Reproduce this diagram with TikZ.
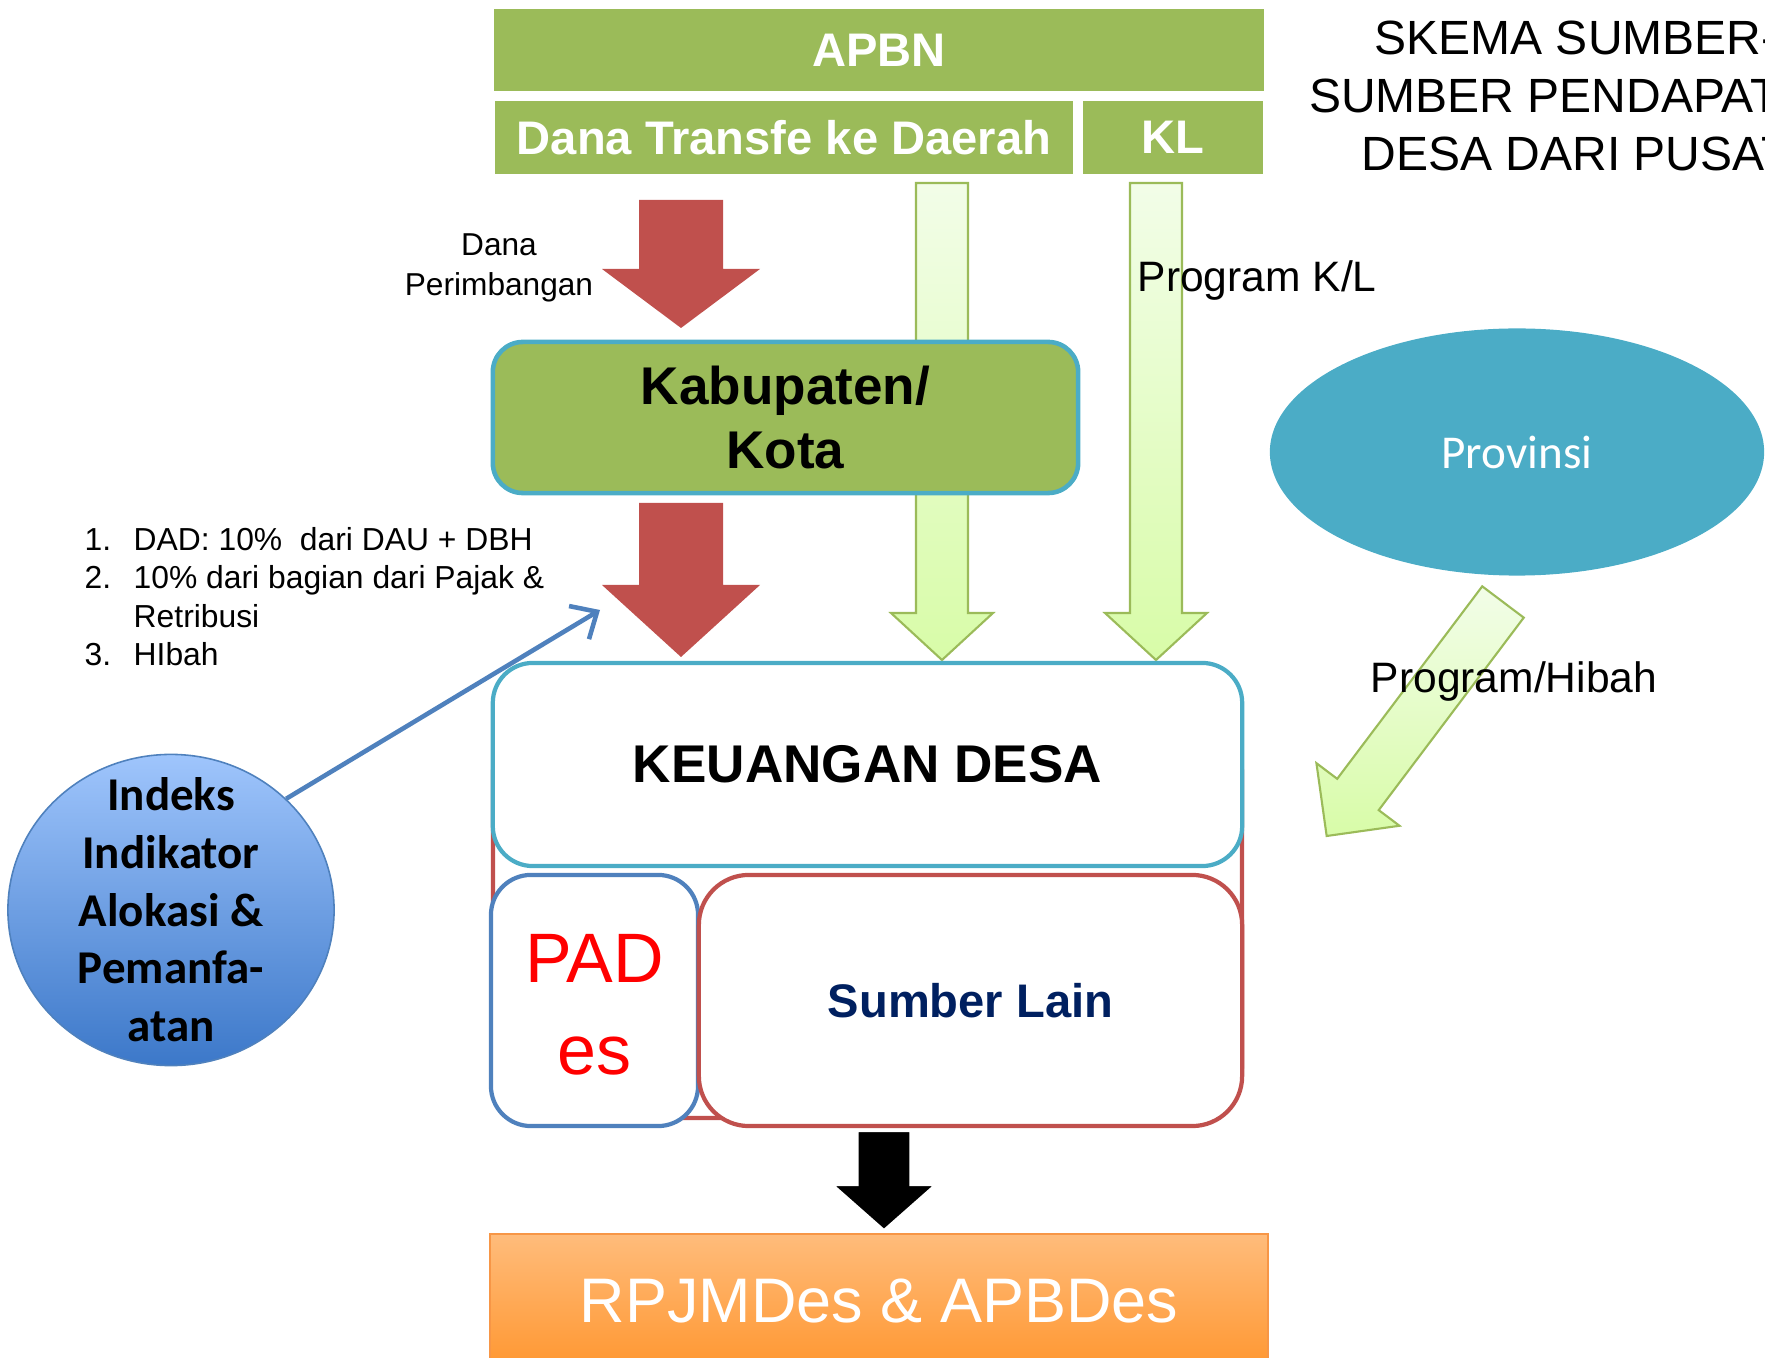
\documentclass[tikz,border=0pt]{standalone}
\usepackage{fontspec}
\setmainfont{Liberation Sans}
\newfontfamily\calibri{Carlito}
\usetikzlibrary{shapes.geometric,arrows.meta}
\definecolor{OliveGreen}{HTML}{9BBB59}
\definecolor{SkyTeal}{HTML}{4BACC6}
\definecolor{BrickRed}{HTML}{C0504D}
\definecolor{SteelBlue}{HTML}{4F81BD}
\definecolor{DeepNavy}{HTML}{002060}
\definecolor{ArrowTop}{HTML}{F2FDE8}
\definecolor{ArrowBot}{HTML}{D8FCA8}
\definecolor{ArrowLine}{HTML}{9BBB59}
\definecolor{OrangeTop}{HTML}{FFBC7B}
\definecolor{OrangeBot}{HTML}{FF9731}
\definecolor{OrangeLine}{HTML}{F79646}
\definecolor{BallTop}{HTML}{9FC5FC}
\definecolor{BallBot}{HTML}{3C78C9}

% fat arrow pointing down: style, x, top, base of head, tip, half shaft, half head
\newcommand{\blockarrow}[7]{%
  \path[#1] (#2-#6,#3) -- (#2+#6,#3) -- (#2+#6,#4) -- (#2+#7,#4) -- (#2,#5)
    -- (#2-#7,#4) -- (#2-#6,#4) -- cycle;}

\begin{document}
\begin{tikzpicture}[x=0.01cm,y=-0.01cm,
  headbox/.style={fill=OliveGreen,inner sep=0,text=white,
    font=\bfseries\fontsize{13.4}{16}\selectfont},
  roundbox/.style={fill=white,inner sep=0,line width=1.2pt},
  plaintext/.style={inner sep=0,align=center},
  redarrow/.style={fill=BrickRed},
  greenarrow/.style={top color=ArrowTop,bottom color=ArrowBot,draw=ArrowLine,line width=0.6pt},
  blackarrow/.style={fill=black,draw=white,line width=0.6pt}]
\useasboundingbox (0,0) rectangle (1765,1358);

% title
\node[plaintext,font=\fontsize{13.66}{16.36}\selectfont] (title) at (1576,96)
  {SKEMA SUMBER-\\SUMBER PENDAPATAN\\DESA DARI PUSAT};

% APBN boxes
\node[headbox,minimum width=7.69cm,minimum height=0.82cm] (apbn) at (879,50) {APBN};
\node[headbox,minimum width=5.78cm,minimum height=0.73cm] (dtd) at (784,137.5) {Dana Transfe ke Daerah};
\node[headbox,minimum width=1.80cm,minimum height=0.73cm] (kl) at (1173,137.5) {KL};

% program arrows from KL
\blockarrow{greenarrow}{942}{183}{613}{660}{26}{51}
\blockarrow{greenarrow}{1156}{183}{613}{660}{26}{51}
\node[plaintext,anchor=west,font=\fontsize{12.1}{14}\selectfont] (progkl) at (1137,281) {Program K/L};

% kabupaten
\node[fill=OliveGreen,draw=SkyTeal,line width=1.3pt,rounded corners=0.3cm,inner sep=0,
  minimum width=5.85cm,minimum height=1.51cm,align=center,
  font=\bfseries\fontsize{15.1}{18.2}\selectfont] (kab) at (785.5,417.5) {Kabupaten/\\Kota};
\blockarrow{redarrow}{681}{200}{269}{328}{42}{79}
\blockarrow{redarrow}{681}{503}{585}{657}{42}{79}
\node[plaintext,font=\fontsize{9}{11.4}\selectfont] (perim) at (499,268) {Dana\\Perimbangan};

% keuangan desa
\draw[BrickRed,line width=1.15pt,rounded corners=0.5cm] (493,720) rectangle (1242,1118);
\node[roundbox,draw=SkyTeal,rounded corners=0.4cm,minimum width=7.49cm,minimum height=2.03cm,
  font=\bfseries\fontsize{15.1}{18}\selectfont] (keu) at (867.5,764.5) {KEUANGAN DESA};
\node[roundbox,draw=SteelBlue,rounded corners=0.4cm,minimum width=2.07cm,minimum height=2.51cm]
  (pad) at (594.5,1000.5) {};
\node[plaintext,text=red,font=\fontsize{19.9}{26.2}\selectfont] (padtext) at (594.5,1005) {PAD\\es};
\node[roundbox,draw=BrickRed,rounded corners=0.5cm,minimum width=5.43cm,minimum height=2.51cm,
  text=DeepNavy,font=\bfseries\fontsize{13.4}{16}\selectfont] (lain) at (970.5,1000.5) {Sumber Lain};

% RPJMDes
\node[top color=OrangeTop,bottom color=OrangeBot,draw=OrangeLine,line width=0.5pt,inner sep=0,
  minimum width=7.78cm,minimum height=1.34cm,text=white,
  font=\fontsize{17.9}{21}\selectfont] (rpjm) at (879,1301) {RPJMDes \& APBDes};
\blockarrow{blackarrow}{884}{1131}{1185}{1230}{26.5}{51}

% provinsi
\node[ellipse,fill=SkyTeal,inner sep=0,minimum width=4.94cm,minimum height=2.47cm,
  text=white,font=\calibri\fontsize{13.4}{16}\selectfont] (prov) at (1517,452) {Provinsi};
\begin{scope}[shift={(1503,602)},rotate=-37]
\blockarrow{greenarrow}{0}{0}{241}{293}{26}{52}
\end{scope}
\node[plaintext,font=\fontsize{12.1}{14}\selectfont] (hibah) at (1514,682) {Program/Hibah};

% indeks
\node[ellipse,top color=BallTop,bottom color=BallBot,draw=SteelBlue,line width=0.45pt,
  minimum width=3.26cm,minimum height=3.11cm] (indeks) at (171,910) {};
\node[plaintext,font=\calibri\bfseries\fontsize{13.37}{16.4}\selectfont] (indekstext) at (indeks)
  {Indeks\\Indikator\\Alokasi \&\\Pemanfa-\\atan};
\coordinate (dadtip) at (600,610);
\draw[SteelBlue,line width=1.3pt,-{Straight Barb[length=6pt,width=11pt]}] (indeks.44) -- (dadtip);

% list
\node[inner sep=0,anchor=north west,font=\fontsize{9.05}{10.9}\selectfont] (dadlist) at (84,523)
  {\begin{tabular}{@{}p{0.49cm}@{}l@{}}
   1. & DAD: 10\%\ \ dari DAU + DBH\\
   2. & 10\% dari bagian dari Pajak \&\\
      & Retribusi\\
   3. & HIbah
   \end{tabular}};
\end{tikzpicture}
\end{document}
